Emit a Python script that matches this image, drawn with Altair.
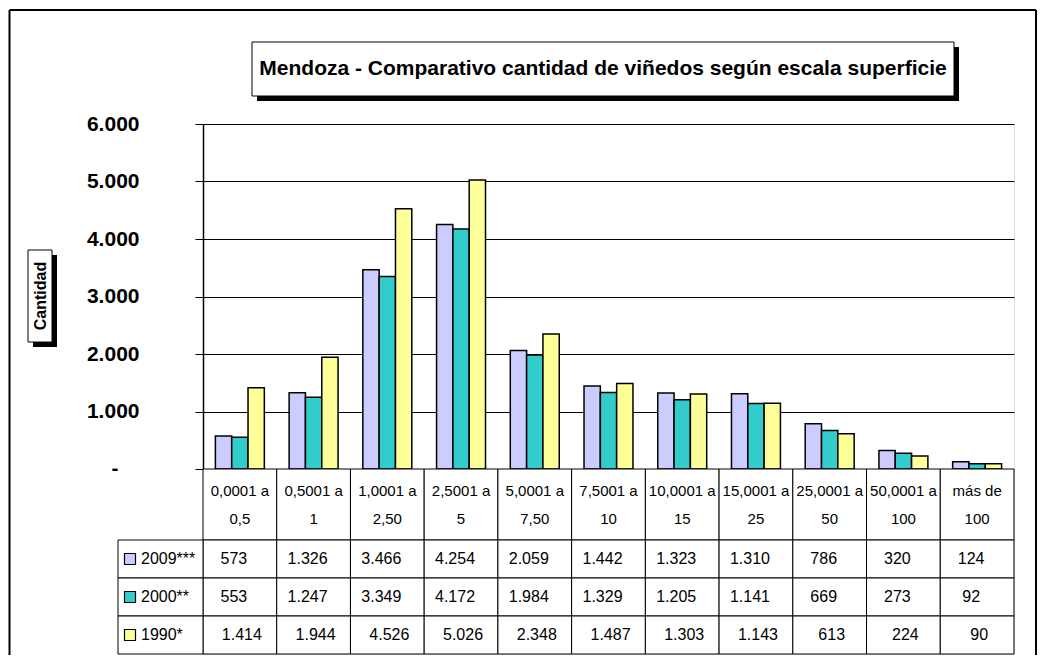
import altair as alt
import pandas as pd

categories = ["0,0001 a 0,5", "0,5001 a 1", "1,0001 a 2,50", "2,5001 a 5", "5,0001 a 7,50",
              "7,5001 a 10", "10,0001 a 15", "15,0001 a 25", "25,0001 a 50", "50,0001 a 100", "más de 100"]
header_lines = [["0,0001 a", "0,5"], ["0,5001 a", "1"], ["1,0001 a", "2,50"], ["2,5001 a", "5"],
                ["5,0001 a", "7,50"], ["7,5001 a", "10"], ["10,0001 a", "15"], ["15,0001 a", "25"],
                ["25,0001 a", "50"], ["50,0001 a", "100"], ["más de", "100"]]
series = ["2009***", "2000**", "1990*"]
v2009 = [573, 1326, 3466, 4254, 2059, 1442, 1323, 1310, 786, 320, 124]
v2000 = [553, 1247, 3349, 4172, 1984, 1329, 1205, 1141, 669, 273, 92]
v1990 = [1414, 1944, 4526, 5026, 2348, 1487, 1303, 1143, 613, 224, 90]
colors = ["#CCCCFF", "#33CCCC", "#FFFF99"]
y_ticks = [0, 1000, 2000, 3000, 4000, 5000, 6000]
title_text = "Mendoza - Comparativo cantidad de viñedos según escala superficie"
y_title = "Cantidad"

FONT = "Liberation Sans, Arial, sans-serif"
W, H = 811, 345
HH, DH = 71, 114

rows = []
for s, vals in zip(series, [v2009, v2000, v1990]):
    for c, v in zip(categories, vals):
        rows.append({"cat": c, "series": s, "value": v, "label": f"{v:,}".replace(",", ".")})
df = pd.DataFrame(rows)
hdr = pd.DataFrame({"cat": categories, "lines": header_lines})
leg = pd.DataFrame({"series": series})

color_scale = alt.Scale(domain=series, range=colors)

# ---------- top: bars ----------
bars = alt.Chart(df).mark_bar(stroke="black", strokeWidth=1.5).encode(
    x=alt.X("cat:N", sort=categories, axis=None,
            scale=alt.Scale(paddingInner=0.336, paddingOuter=0.168)),
    xOffset=alt.XOffset("series:N", sort=series, scale=alt.Scale(paddingInner=0, paddingOuter=0)),
    y=alt.Y("value:Q", scale=alt.Scale(domain=[0, 6000], nice=False),
            axis=alt.Axis(values=y_ticks, grid=True, gridColor="black", gridWidth=1,
                          domainColor="black", domainWidth=1.5, tickColor="black", tickSize=8,
                          labelExpr="datum.value == 0 ? '' : replace(format(datum.value, ','), ',', '.')",
                          labelFontSize=21, labelFontWeight="bold", labelFont=FONT, labelColor="black",
                          labelPadding=56, title=None)),
    color=alt.Color("series:N", scale=color_scale, legend=None),
)

zero = alt.Chart(pd.DataFrame({"value": [0], "t": ["-"]})).mark_text(
    font=FONT, fontSize=21, fontWeight="bold", color="black", align="center", baseline="middle"
).encode(x=alt.value(-88), y="value:Q", text="t:N")

one = pd.DataFrame({"t": [title_text]})
title_shadow = alt.Chart(one).mark_rect(fill="black").encode(
    x=alt.value(54), x2=alt.value(756), y=alt.value(-77), y2=alt.value(-23))
title_box = alt.Chart(one).mark_rect(fill="white", stroke="black", strokeWidth=1).encode(
    x=alt.value(49), x2=alt.value(751), y=alt.value(-82), y2=alt.value(-28))
title_txt = alt.Chart(one).mark_text(font=FONT, fontSize=21, fontWeight="bold", color="black",
                                      align="center", baseline="middle").encode(
    x=alt.value(400), y=alt.value(-55), text="t:N")

yt = pd.DataFrame({"t": [y_title]})
yt_shadow = alt.Chart(yt).mark_rect(fill="black").encode(
    x=alt.value(-170), x2=alt.value(-146), y=alt.value(131), y2=alt.value(223))
yt_box = alt.Chart(yt).mark_rect(fill="white", stroke="black", strokeWidth=1).encode(
    x=alt.value(-175), x2=alt.value(-151), y=alt.value(126), y2=alt.value(218))
yt_txt = alt.Chart(yt).mark_text(font=FONT, fontSize=16, fontWeight="bold", color="black",
                                  angle=270, align="center", baseline="middle").encode(
    x=alt.value(-162.5), y=alt.value(172), text="t:N")

frame_l = alt.Chart(yt).mark_rule(color="black", strokeWidth=2).encode(
    x=alt.value(-193.5), y=alt.value(-114), y2=alt.value(531))
frame_t = alt.Chart(yt).mark_rule(color="black", strokeWidth=2).encode(
    x=alt.value(-193.5), x2=alt.value(833), y=alt.value(-114))
frame_r = alt.Chart(yt).mark_rule(color="black", strokeWidth=2).encode(
    x=alt.value(833), y=alt.value(-114), y2=alt.value(531))

top = alt.layer(frame_l, frame_t, frame_r, title_shadow, title_box, title_txt,
                yt_shadow, yt_box, yt_txt, bars, zero).properties(width=W, height=H)

# ---------- header row ----------
hx = alt.X("cat:N", sort=categories, axis=None, scale=alt.Scale(paddingInner=0, paddingOuter=0))
h_cells = alt.Chart(hdr).mark_rect(fill="white", stroke="black", strokeWidth=1).encode(x=hx)
h_text = alt.Chart(hdr).mark_text(font=FONT, fontSize=15, color="black", lineHeight=28,
                                  align="center", baseline="middle").encode(
    x=hx, y=alt.value(HH / 2 - 14), text="lines")
header = alt.layer(h_cells, h_text).properties(width=W, height=HH)

# ---------- data rows ----------
dy = alt.Y("series:N", sort=series, axis=None, scale=alt.Scale(paddingInner=0, paddingOuter=0))
d_cells = alt.Chart(df).mark_rect(fill="white", stroke="black", strokeWidth=1).encode(x=hx, y=dy)
d_txt_a = alt.Chart(df).transform_filter(alt.datum.series != "1990*").mark_text(
    font=FONT, fontSize=16, color="black", align="center", baseline="middle", dx=-6).encode(
    x=hx, y=dy, text="label:N")
d_txt_b = alt.Chart(df).transform_filter(alt.datum.series == "1990*").mark_text(
    font=FONT, fontSize=16, color="black", align="center", baseline="middle", dx=2).encode(
    x=hx, y=dy, text="label:N")
l_cells = alt.Chart(leg).mark_rect(fill="white", stroke="black", strokeWidth=1).encode(
    x=alt.value(-85), x2=alt.value(0), y=dy)
l_sw = alt.Chart(leg).mark_square(size=121, opacity=1, stroke="black", strokeWidth=1.2).encode(
    x=alt.value(-73), y=dy, color=alt.Color("series:N", scale=color_scale, legend=None))
l_txt = alt.Chart(leg).mark_text(font=FONT, fontSize=16, color="black", align="left",
                                 baseline="middle").encode(x=alt.value(-62), y=dy, text="series:N")
data_tbl = alt.layer(d_cells, d_txt_a, d_txt_b, l_cells, l_sw, l_txt).properties(width=W, height=DH)

chart = alt.vconcat(top, header, data_tbl, spacing=0, bounds="flush").properties(
    padding=0, background="white"
).configure_view(stroke="#808080", strokeWidth=1).configure(font=FONT)

chart.save("out.html", embed_options={"renderer": "svg", "actions": False})
